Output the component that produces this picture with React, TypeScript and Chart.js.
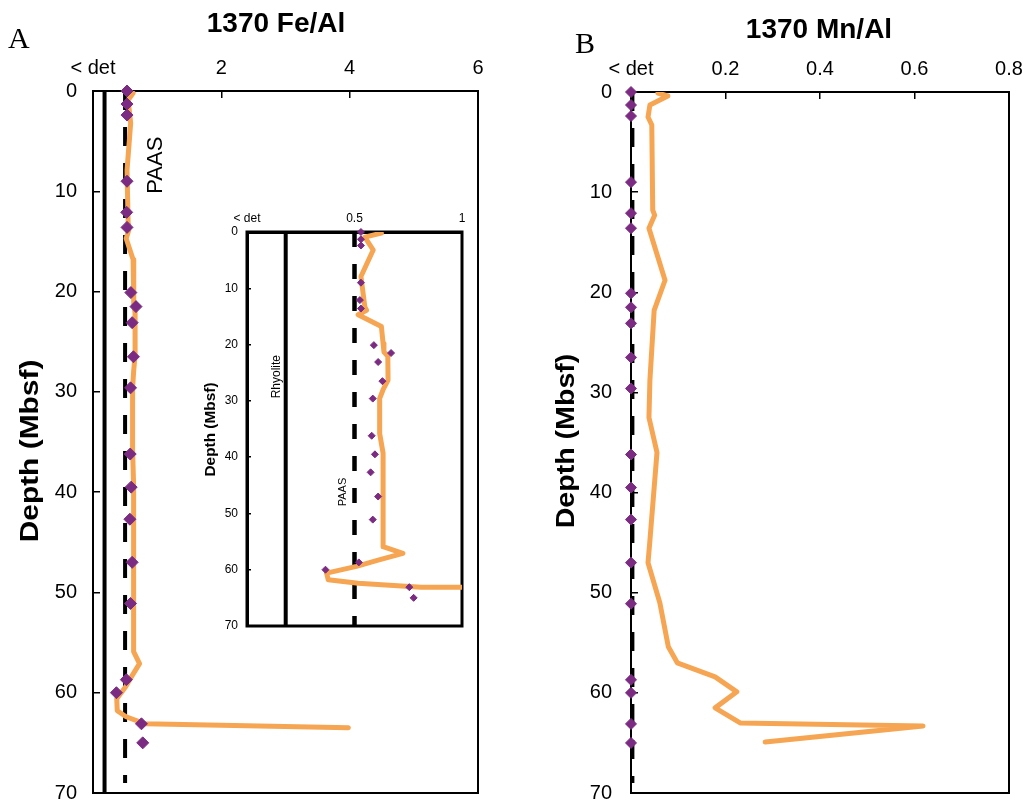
import React, { useEffect, useRef } from 'react';
import { Chart, registerables } from 'chart.js';

Chart.register(...registerables);

const SANS = '"Liberation Sans", Arial, Helvetica, sans-serif';
const SERIF = '"Liberation Serif", "Times New Roman", serif';
const PURPLE = '#7B2B82';
const ORANGE = '#F6A553';

// ---------------- data ----------------
// sample depths (mbsf) and measured ratios (purple diamonds)
const sampleDepth = [0, 1.3, 2.4, 9.0, 12.1, 13.6, 20.1, 21.5, 23.1, 26.5, 29.6, 36.2, 39.5, 42.7, 47.0, 51.1, 58.7, 60.0, 63.1, 65.0];
const sampleFeAl = [0.53, 0.53, 0.53, 0.53, 0.525, 0.53, 0.59, 0.67, 0.61, 0.63, 0.585, 0.58, 0.595, 0.575, 0.61, 0.585, 0.52, 0.365, 0.755, 0.775];
const sampleMnAl = [0, 0, 0, 0, 0, 0, 0, 0, 0, 0, 0, 0, 0, 0, 0, 0, 0, 0, 0, 0];

// orange Fe/Al profile
const feLineDepth = [0.2, 0.9, 3.2, 7.9, 13.3, 13.9, 14.7, 16.8, 19.8, 21.3, 22.1, 26.3, 28.0, 29.6, 35.8, 39.3, 55.9, 57.1, 58.3, 59.4, 60.6, 61.8, 62.4, 63.1, 63.5];
const feLineValue = [0.625, 0.548, 0.587, 0.53, 0.548, 0.556, 0.517, 0.625, 0.633, 0.637, 0.655, 0.656, 0.633, 0.617, 0.617, 0.633, 0.633, 0.725, 0.61, 0.509, 0.37, 0.378, 0.517, 0.81, 3.98];

// orange Mn/Al profile
const mnLineDepth = [0.1, 0.4, 1.3, 2.5, 3.3, 11.8, 12.3, 13.6, 18.8, 21.8, 28.8, 32.5, 36.0, 44.8, 47.0, 51.0, 55.4, 57.0, 58.4, 59.9, 61.5, 63.0, 63.3, 64.9];
const mnLineValue = [0.057, 0.078, 0.04, 0.036, 0.044, 0.046, 0.05, 0.038, 0.072, 0.049, 0.04, 0.038, 0.055, 0.04, 0.036, 0.061, 0.079, 0.098, 0.178, 0.224, 0.178, 0.231, 0.618, 0.284];

// reference lines
const paasFeAl = [0.5, 0.5];
const paasFeDepth = [0, 69];
const paasInsetDepth = [0, 70];
const rhyoliteFeAl = [0.18, 0.18];
const rhyoliteDepth = [0, 70];
const paasMnAl = [0.004, 0.004];
const paasMnDepth = [0, 69];

// tick labels
const depthTicks = ['0', '10', '20', '30', '40', '50', '60', '70'];
const feTicks = ['< det', '2', '4', '6'];
const insetTicks = ['< det', '0.5', '1'];
const mnTicks = ['< det', '0.2', '0.4', '0.6', '0.8'];

// ---------------- helpers ----------------
const pts = (xs: number[], ys: number[]) => ys.map((d, i) => ({ x: xs[i], y: d }));

function makeAnnot(cfg: { fill?: boolean; frame: number; texts: any[] }) {
  return {
    id: 'annot',
    beforeDraw(chart: any) {
      if (!cfg.fill) return;
      const { ctx, chartArea: a } = chart;
      ctx.save();
      ctx.fillStyle = '#ffffff';
      ctx.fillRect(a.left, a.top, a.right - a.left, a.bottom - a.top);
      ctx.restore();
    },
    beforeDatasetsDraw(chart: any) {
      const { ctx, chartArea: a } = chart;
      ctx.save();
      ctx.strokeStyle = '#000';
      ctx.lineWidth = cfg.frame;
      ctx.strokeRect(a.left, a.top, a.right - a.left, a.bottom - a.top);
      ctx.restore();
    },
    afterDraw(chart: any) {
      const { ctx } = chart;
      cfg.texts.forEach((t) => {
        const x = t.px ? t.x : chart.scales.x.getPixelForValue(t.x);
        const y = t.px ? t.y : chart.scales.y.getPixelForValue(t.y);
        ctx.save();
        ctx.translate(x, y);
        if (t.rotate) ctx.rotate((t.rotate * Math.PI) / 180);
        if (t.stretch) ctx.scale(t.stretch, 1);
        ctx.font = t.font;
        ctx.fillStyle = '#000';
        ctx.textAlign = t.align || 'center';
        ctx.textBaseline = t.baseline || 'middle';
        ctx.fillText(t.text, 0, 0);
        ctx.restore();
      });
    },
  };
}

function depthAxis(o: { width: number; pad: number; tickLen: number; size: number; border: number }) {
  return {
    type: 'linear',
    position: 'left',
    min: 0,
    max: 70,
    reverse: true,
    afterFit: (s: any) => {
      s.width = o.width;
    },
    ticks: {
      stepSize: 10,
      padding: o.pad,
      color: '#000',
      autoSkip: false,
      font: { family: SANS, size: o.size },
      callback: (v: any) => depthTicks[Math.round(Number(v) / 10)],
    },
    grid: { drawOnChartArea: false, drawTicks: true, tickLength: -o.tickLen, color: '#000', lineWidth: 1.5 },
    border: { display: true, color: '#000', width: o.border },
    title: { display: false },
  };
}

function topAxis(o: { max: number; step: number; labels: string[]; height: number; pad: number; tickLen: number; size: number; border: number }) {
  return {
    type: 'linear',
    position: 'top',
    min: 0,
    max: o.max,
    afterFit: (s: any) => {
      s.height = o.height;
    },
    ticks: {
      stepSize: o.step,
      padding: o.pad,
      color: '#000',
      autoSkip: false,
      maxRotation: 0,
      font: { family: SANS, size: o.size },
      callback: (_v: any, i: number) => o.labels[i],
    },
    grid: { drawOnChartArea: false, drawTicks: true, tickLength: -o.tickLen, color: '#000', lineWidth: 1.5 },
    border: { display: true, color: '#000', width: o.border },
  };
}

function baseOptions(padding: any, scales: any) {
  return {
    responsive: false,
    animation: false,
    devicePixelRatio: 1,
    events: [],
    layout: { padding },
    plugins: { legend: { display: false }, tooltip: { enabled: false }, title: { display: false } },
    scales,
  };
}

function sampleSet(xs: number[], radius: number) {
  return {
    data: pts(xs, sampleDepth),
    showLine: false,
    pointStyle: 'rectRot',
    pointRadius: radius,
    pointBackgroundColor: PURPLE,
    pointBorderColor: PURPLE,
    pointBorderWidth: 1,
    clip: false,
  };
}

function lineSet(xs: number[], ys: number[], color: string, width: number, dash: number[] = []) {
  return {
    data: pts(xs, ys),
    showLine: true,
    pointRadius: 0,
    borderColor: color,
    borderWidth: width,
    borderDash: dash,
    borderCapStyle: dash.length ? 'butt' : 'round',
    borderJoinStyle: 'round',
    tension: 0,
  };
}

// ---------------- chart configs ----------------
function makePanelA() {
  return {
    type: 'scatter',
    data: {
      datasets: [
        sampleSet(sampleFeAl, 6),
        lineSet(feLineValue, feLineDepth, ORANGE, 5),
        lineSet(paasFeAl, paasFeDepth, '#000', 4, [19, 17]),
        lineSet(rhyoliteFeAl, rhyoliteDepth, '#000', 4),
      ],
    },
    options: baseOptions(
      { left: 0, top: 0, right: 62, bottom: 52 },
      {
        x: topAxis({ max: 6, step: 2, labels: feTicks, height: 91, pad: 18, tickLen: 7, size: 20, border: 2 }),
        y: depthAxis({ width: 93, pad: 23, tickLen: 7, size: 20, border: 2 }),
      }
    ),
    plugins: [
      makeAnnot({
        frame: 2,
        texts: [
          { text: 'A', px: true, x: 8, y: 48, font: `30px ${SERIF}`, align: 'left', baseline: 'alphabetic' },
          { text: '1370 Fe/Al', px: true, x: 276, y: 32, font: `bold 28px ${SANS}`, align: 'center', baseline: 'alphabetic' },
          { text: 'Depth (Mbsf)', px: true, x: 31, y: 451, rotate: -90, stretch: 1.15, font: `bold 26px ${SANS}` },
          { text: 'PAAS', x: 0.98, y: 7.4, rotate: -90, font: `22px ${SANS}` },
        ],
      }),
    ],
  };
}

function makeInset() {
  return {
    type: 'scatter',
    data: {
      datasets: [
        sampleSet(sampleFeAl, 3.5),
        lineSet(feLineValue, feLineDepth, ORANGE, 5),
        lineSet(paasFeAl, paasInsetDepth, '#000', 4.5, [15, 17]),
        lineSet(rhyoliteFeAl, rhyoliteDepth, '#000', 4),
      ],
    },
    options: baseOptions(
      { left: 0, top: 0, right: 18, bottom: 30 },
      {
        x: topAxis({ max: 1, step: 0.5, labels: insetTicks, height: 37, pad: 10, tickLen: 4, size: 12, border: 3 }),
        y: depthAxis({ width: 57, pad: 13, tickLen: 4, size: 12, border: 3 }),
      }
    ),
    plugins: [
      makeAnnot({
        fill: true,
        frame: 3,
        texts: [
          { text: 'Depth (Mbsf)', px: true, x: 21, y: 234.5, rotate: -90, stretch: 1.1, font: `bold 14px ${SANS}` },
          { text: 'Rhyolite', x: 0.14, y: 25.7, rotate: -90, font: `12px ${SANS}` },
          { text: 'PAAS', x: 0.448, y: 46.2, rotate: -90, font: `11px ${SANS}` },
        ],
      }),
    ],
  };
}

function makePanelB() {
  return {
    type: 'scatter',
    data: {
      datasets: [
        sampleSet(sampleMnAl, 5.5),
        lineSet(mnLineValue, mnLineDepth, ORANGE, 5),
        lineSet(paasMnAl, paasMnDepth, '#000', 3, [19, 17]),
      ],
    },
    options: baseOptions(
      { left: 0, top: 0, right: 51, bottom: 52 },
      {
        x: topAxis({ max: 0.8, step: 0.2, labels: mnTicks, height: 92, pad: 18, tickLen: 7, size: 20, border: 2 }),
        y: depthAxis({ width: 91, pad: 26, tickLen: 7, size: 20, border: 2 }),
      }
    ),
    plugins: [
      makeAnnot({
        frame: 2,
        texts: [
          { text: 'B', px: true, x: 35, y: 53, font: `30px ${SERIF}`, align: 'left', baseline: 'alphabetic' },
          { text: '1370 Mn/Al', px: true, x: 279, y: 38, font: `bold 28px ${SANS}`, align: 'center', baseline: 'alphabetic' },
          { text: 'Depth (Mbsf)', px: true, x: 27, y: 441, rotate: -90, stretch: 1.1, font: `bold 26px ${SANS}` },
        ],
      }),
    ],
  };
}

function ChartCanvas(props: { make: () => any; left: number; top: number; width: number; height: number }) {
  const ref = useRef<HTMLCanvasElement>(null);
  useEffect(() => {
    const chart = new Chart(ref.current as HTMLCanvasElement, props.make() as any);
    return () => chart.destroy();
  }, []);
  return (
    <canvas
      ref={ref}
      width={props.width}
      height={props.height}
      style={{ position: 'absolute', left: props.left, top: props.top, width: props.width, height: props.height }}
    />
  );
}

export default function App() {
  return (
    <div style={{ position: 'absolute', left: 0, top: 0, width: 1026, height: 805, background: '#fff', overflow: 'hidden' }}>
      <ChartCanvas make={makePanelA} left={0} top={0} width={540} height={845} />
      <ChartCanvas make={makePanelB} left={540} top={0} width={520} height={845} />
      <ChartCanvas make={makeInset} left={190} top={195} width={290} height={461} />
    </div>
  );
}
